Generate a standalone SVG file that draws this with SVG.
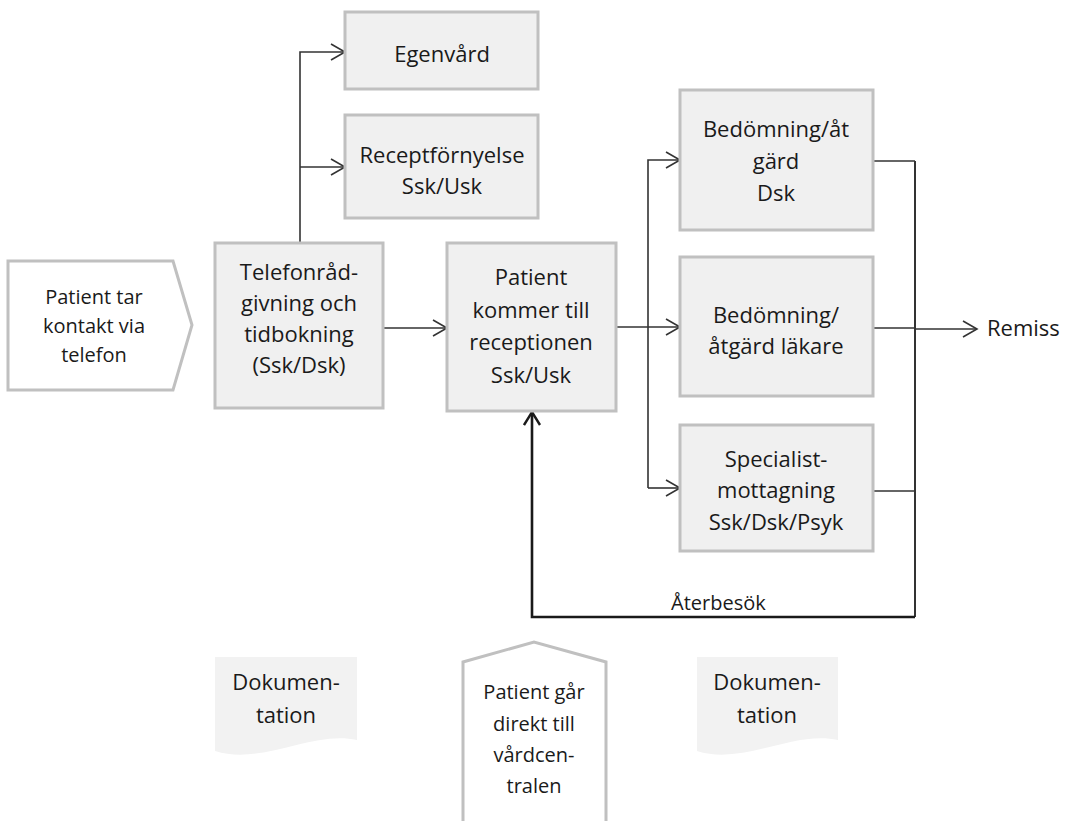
<svg xmlns="http://www.w3.org/2000/svg" width="1068" height="821" viewBox="0 0 1068 821">
<style>
.box{fill:#f0f0f0;stroke:#c0c0c0;stroke-width:3}
.in{fill:#ffffff;stroke:#c0c0c0;stroke-width:3}
.doc{fill:#f2f2f2;stroke:none}
.t{font-family:"Open Sans","Liberation Sans",sans-serif;font-size:22px;fill:#1a1a1a;text-anchor:middle}
.s{font-family:"Open Sans","Liberation Sans",sans-serif;font-size:20px;fill:#1a1a1a;text-anchor:middle}
.ln{fill:none;stroke:#333333;stroke-width:1.6}
.thick{fill:none;stroke:#1a1a1a;stroke-width:2.6}
</style>
<defs>
<marker id="ah" markerWidth="18" markerHeight="20" refX="15" refY="9" orient="auto" markerUnits="userSpaceOnUse">
<path d="M1,1 L15,9 L1,17" fill="none" stroke="#333333" stroke-width="1.6"/>
</marker>
<marker id="ahk" markerWidth="20" markerHeight="20" refX="14" refY="9" orient="auto" markerUnits="userSpaceOnUse">
<path d="M1,1 L14,9 L1,17" fill="none" stroke="#1a1a1a" stroke-width="2.4"/>
</marker>
</defs>

<g id="connectors">
<polyline class="ln" points="300,243 300,52 345,52" marker-end="url(#ah)"/>
<line class="ln" x1="300" y1="167" x2="345" y2="167" marker-end="url(#ah)"/>
<line class="ln" x1="383" y1="328" x2="447" y2="328" marker-end="url(#ah)"/>
<line class="ln" x1="616" y1="327" x2="680" y2="327" marker-end="url(#ah)"/>
<polyline class="ln" points="648,488 648,160 680,160" marker-end="url(#ah)"/>
<line class="ln" x1="648" y1="488" x2="680" y2="488" marker-end="url(#ah)"/>
<line class="ln" x1="873" y1="161" x2="915" y2="161"/>
<line class="ln" x1="873" y1="328" x2="915" y2="328"/>
<line class="ln" x1="873" y1="491" x2="915" y2="491"/>
<line class="ln" x1="915" y1="161" x2="915" y2="617" style="stroke-width:2"/>
<line class="ln" x1="915" y1="329" x2="977" y2="329" marker-end="url(#ah)"/>
<polyline class="thick" points="915,617 532,617 532,412" marker-end="url(#ahk)"/>
<text x="671" y="610" font-family="Open Sans, Liberation Sans, sans-serif" font-size="20" fill="#1a1a1a">Återbesök</text>
<text x="987" y="336" font-family="Open Sans, Liberation Sans, sans-serif" font-size="22" fill="#1a1a1a">Remiss</text>
</g>

<g id="patient-tar-kontakt">
<polygon class="in" points="8,261 173,261 192,325 173,390 8,390"/>
<text class="s" x="94" y="304">Patient tar</text>
<text class="s" x="94" y="333">kontakt via</text>
<text class="s" x="94" y="362">telefon</text>
</g>

<g id="telefonradgivning">
<rect class="box" x="215" y="243" width="168" height="165"/>
<text class="t" x="299" y="280">Telefonråd-</text>
<text class="t" x="299" y="311">givning och</text>
<text class="t" x="299" y="342">tidbokning</text>
<text class="t" x="299" y="373">(Ssk/Dsk)</text>
</g>

<g id="egenvard">
<rect class="box" x="345" y="12" width="193" height="77"/>
<text class="t" x="442" y="62">Egenvård</text>
</g>

<g id="receptfornyelse">
<rect class="box" x="345" y="115" width="193" height="103"/>
<text class="t" x="442" y="163">Receptförnyelse</text>
<text class="t" x="442" y="194">Ssk/Usk</text>
</g>

<g id="patient-reception">
<rect class="box" x="447" y="243" width="169" height="168"/>
<text class="t" x="531" y="285">Patient</text>
<text class="t" x="531" y="318">kommer till</text>
<text class="t" x="531" y="350">receptionen</text>
<text class="t" x="531" y="383">Ssk/Usk</text>
</g>

<g id="bedomning-dsk">
<rect class="box" x="680" y="90" width="193" height="140"/>
<text class="t" x="776" y="137">Bedömning/åt</text>
<text class="t" x="776" y="169">gärd</text>
<text class="t" x="776" y="201">Dsk</text>
</g>

<g id="bedomning-lakare">
<rect class="box" x="680" y="257" width="193" height="139"/>
<text class="t" x="776" y="323">Bedömning/</text>
<text class="t" x="776" y="354">åtgärd läkare</text>
</g>

<g id="specialistmottagning">
<rect class="box" x="680" y="425" width="193" height="126"/>
<text class="t" x="776" y="467">Specialist-</text>
<text class="t" x="776" y="498">mottagning</text>
<text class="t" x="776" y="530">Ssk/Dsk/Psyk</text>
</g>

<g id="dokumentation-1">
<path class="doc" d="M215,657 H357 V740 C312,730 262,766 215,751 Z"/>
<text class="t" x="286" y="690">Dokumen-</text>
<text class="t" x="286" y="723">tation</text>
</g>

<g id="patient-direkt">
<polygon class="in" points="463,830 463,662 534,642 606,662 606,830"/>
<text class="s" x="534" y="699">Patient går</text>
<text class="s" x="534" y="731">direkt till</text>
<text class="s" x="534" y="762">vårdcen-</text>
<text class="s" x="534" y="793">tralen</text>
</g>

<g id="dokumentation-2">
<path class="doc" d="M697,657 H838 V740 C793,730 743,766 697,751 Z"/>
<text class="t" x="767" y="690">Dokumen-</text>
<text class="t" x="767" y="723">tation</text>
</g>
</svg>
